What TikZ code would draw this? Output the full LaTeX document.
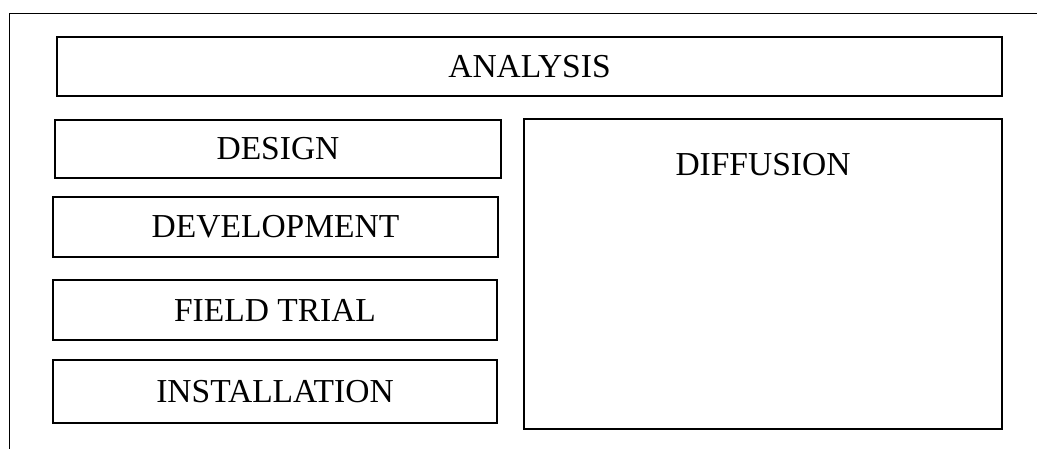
\documentclass[tikz,border=0pt]{standalone}
\usepackage{fontspec}
\setmainfont{Liberation Serif}
\begin{document}
\begin{tikzpicture}[x=1pt,y=-1pt,
  stage/.style={draw, line width=1.3pt, inner sep=0pt,
    font=\fontsize{33.5}{39}\selectfont},
  caption/.style={inner sep=0pt, font=\fontsize{33.5}{39}\selectfont}]
  \useasboundingbox (0,0) rectangle (1037,449);

  % open outer frame (top and left edges)
  \coordinate (fright) at (1037,13.5);
  \coordinate (fcorner) at (9.5,13.5);
  \coordinate (fbottom) at (9.5,449);
  \draw[line width=1.2pt] (fright) -- (fcorner) -- (fbottom);

  % phases
  \node[stage, minimum width=945pt, minimum height=59pt] (analysis) at (529.5,66.5) {ANALYSIS};
  \node[stage, minimum width=446pt, minimum height=58pt] (design) at (278,149) {DESIGN};
  \node[stage, minimum width=445pt, minimum height=60pt] (development) at (275.5,227) {DEVELOPMENT};
  \node[stage, minimum width=444pt, minimum height=60pt] (fieldtrial) at (275,310) {FIELD TRIAL};
  \node[stage, minimum width=444pt, minimum height=63pt] (installation) at (275,391.5) {INSTALLATION};

  % diffusion runs alongside the later phases
  \node[stage, minimum width=478pt, minimum height=310pt] (diffusion) at (763,274) {};
  \node[caption] (diffusiontext) at (763,165) {DIFFUSION};
\end{tikzpicture}
\end{document}
